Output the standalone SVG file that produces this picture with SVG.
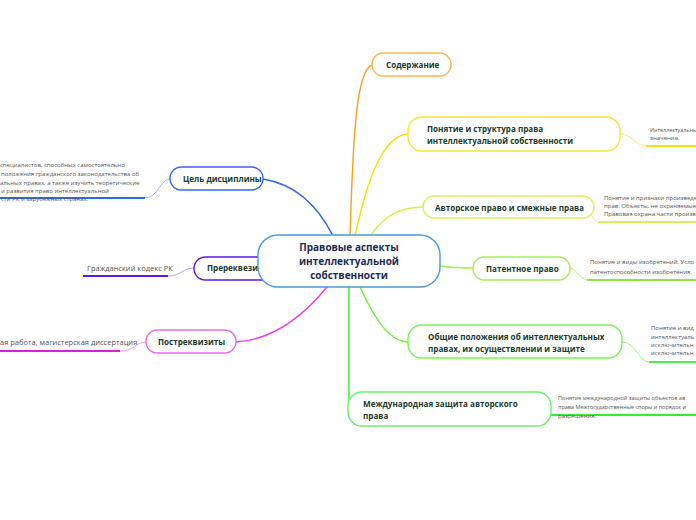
<svg xmlns="http://www.w3.org/2000/svg" width="696" height="520" viewBox="0 0 696 520">
<style>
.n{fill:#fff;stroke-width:1.4}
.l{font-family:"Open Sans","Noto Sans",sans-serif;font-size:8.1px;font-weight:bold;fill:#1b3b2b}
.c{font-family:"Open Sans","Noto Sans",sans-serif;font-size:10px;font-weight:bold;fill:#1d2b52;text-anchor:middle}
.t{font-family:"Open Sans","Noto Sans",sans-serif;font-size:6px;fill:#555}
.b{fill:none;stroke-width:1.4}
.s{fill:none;stroke-width:0.8}
.u{fill:none;stroke-width:2}
</style>
<rect width="696" height="520" fill="#fff"/>
<g id="connectors">
<path class="b" stroke="#f7a21b" d="M350,236 C353,140 356,70 372,65"/>
<path class="b" stroke="#ffe000" d="M355,236 C365,190 380,136 408,134"/>
<path class="b" stroke="#d8f04a" d="M370,236 C385,215 400,207 423,207"/>
<path class="b" stroke="#a6ee55" d="M440,266 C455,268 460,268 473,268"/>
<path class="b" stroke="#6ef040" d="M360,287 C375,320 390,342 408,342"/>
<path class="b" stroke="#33ee33" d="M349,287 L349,404"/>
<path class="b" stroke="#2f66f0" d="M263,179 C300,185 320,210 333,236"/>
<path class="b" stroke="#5a19e6" d="M284,268 L260,268"/>
<path class="b" stroke="#e93ce9" d="M327,287 C300,320 270,340 236,342"/>
<path class="s" stroke="#ffe45c" d="M620,134 C632,134 636,146 646,146"/>
<path class="s" stroke="#d8f05c" d="M590,213 C594,220 596,222 600,222"/>
<path class="s" stroke="#a6ee55" d="M570,268 C578,270 580,280 588,280"/>
<path class="s" stroke="#8cf070" d="M622,342 C636,342 638,362 650,362"/>
<path class="s" stroke="#8cf08c" d="M528,404 C540,403 544,415 552,415"/>
<path class="s" stroke="#88a8f8" d="M145,198 C158,198 160,179 170,179"/>
<path class="s" stroke="#b08cf0" d="M168,276 C182,276 182,268 194,268"/>
<path class="s" stroke="#f08cf0" d="M120,351 C134,351 136,342 146,342"/>
<path class="u" stroke="#ffe000" d="M646,146 H696"/>
<path class="u" stroke="#d8f05c" d="M598,222 H696"/>
<path class="u" stroke="#8ee63a" d="M587,280 H696"/>
<path class="u" stroke="#55ee44" d="M649,362 H696"/>
<path class="u" stroke="#33ee33" d="M550,415 H696"/>
<path class="u" stroke="#2f66f0" d="M0,198 H145"/>
<path class="u" stroke="#5a19e6" d="M83,276 H168"/>
<path class="u" stroke="#d91fd9" d="M0,351 H120"/>
</g>
<g id="n-cel">
<rect class="n" stroke="#3366ff" x="170" y="167" width="93" height="23" rx="11.5"/>
<text class="l" x="183" y="182">Цель дисциплины</text>
<text class="t" x="0" y="167">специалистов, способных самостоятельно</text>
<text class="t" x="1" y="176">положения гражданского законодательства об</text>
<text class="t" x="0" y="185">альных правах, а также изучить теоретические</text>
<text class="t" x="1" y="193">и развития право интеллектуальной</text>
<text class="t" x="1" y="201">сти РК и зарубежных странах.</text>
</g>
<g id="n-prereq">
<rect class="n" stroke="#5a19e6" x="194" y="257" width="90" height="23" rx="11.5"/>
<text class="l" x="207" y="271">Пререквезиты</text>
<text class="t" style="font-size:7.5px" x="87" y="271">Гражданский кодекс РК</text>
</g>
<g id="n-postreq">
<rect class="n" stroke="#ee66ee" x="146" y="330" width="90" height="23" rx="11.5"/>
<text class="l" x="158" y="345">Постреквизиты</text>
<text class="t" style="font-size:7.5px" x="0" y="345">ая работа, магистерская диссертация</text>
</g>
<g id="n-center">
<rect fill="#fff" stroke="#4a9ad8" stroke-width="1.4" x="258" y="235" width="182" height="52" rx="20"/>
<text class="c" x="349" y="251">Правовые аспекты</text>
<text class="c" x="349" y="265">интеллектуальной</text>
<text class="c" x="349" y="279">собственности</text>
</g>
<g id="n-soderzh">
<rect class="n" stroke="#ffb84d" x="372" y="53" width="79" height="23" rx="11.5"/>
<text class="l" x="386" y="68">Содержание</text>
</g>
<g id="n-ponyatie">
<rect class="n" stroke="#ffe433" x="408" y="117" width="212" height="34" rx="14"/>
<text class="l" x="427" y="132">Понятие и структура права</text>
<text class="l" x="427" y="144">интеллектуальной собственности</text>
<text class="t" style="font-size:5.4px" x="650" y="132">Интеллектуальны</text>
<text class="t" x="650" y="140">значение.</text>
</g>
<g id="n-avtor">
<rect class="n" stroke="#d9f55a" x="423" y="196" width="171" height="22" rx="11"/>
<text class="l" x="435" y="211">Авторское право и смежные права</text>
<text class="t" x="604" y="200">Понятие и признаки произведе</text>
<text class="t" x="604" y="208">прав. Объекты, не охраняемые</text>
<text class="t" x="604" y="216">Правовая охрана части произв</text>
</g>
<g id="n-patent">
<rect class="n" stroke="#a6ee55" x="473" y="257" width="97" height="23" rx="11.5"/>
<text class="l" x="486" y="272">Патентное право</text>
<text class="t" x="590" y="264">Понятие и виды изобретений. Усло</text>
<text class="t" x="590" y="274">патентоспособности изобретения.</text>
</g>
<g id="n-obshchie">
<rect class="n" stroke="#7ef25a" x="408" y="325" width="214" height="33" rx="14"/>
<text class="l" x="428" y="340">Общие положения об интеллектуальных</text>
<text class="l" x="428" y="352">правах, их осуществлении и защите</text>
<text class="t" x="651" y="330">Понятие и вид</text>
<text class="t" x="651" y="339">интеллектуаль</text>
<text class="t" x="651" y="347">исключительн</text>
<text class="t" x="651" y="355">исключительн</text>
</g>
<g id="n-mezhd">
<rect class="n" stroke="#6df06d" x="348" y="392" width="203" height="34" rx="14"/>
<text class="l" x="363" y="407">Международная защита авторского</text>
<text class="l" x="363" y="419">права</text>
<text class="t" style="font-size:5.6px" x="558" y="400">Понятие международной защиты объектов ав</text>
<text class="t" style="font-size:5.5px" x="558" y="409">права Межгосударственные споры и порядок и</text>
<text class="t" x="558" y="418">разрешения.</text>
</g>
</svg>
